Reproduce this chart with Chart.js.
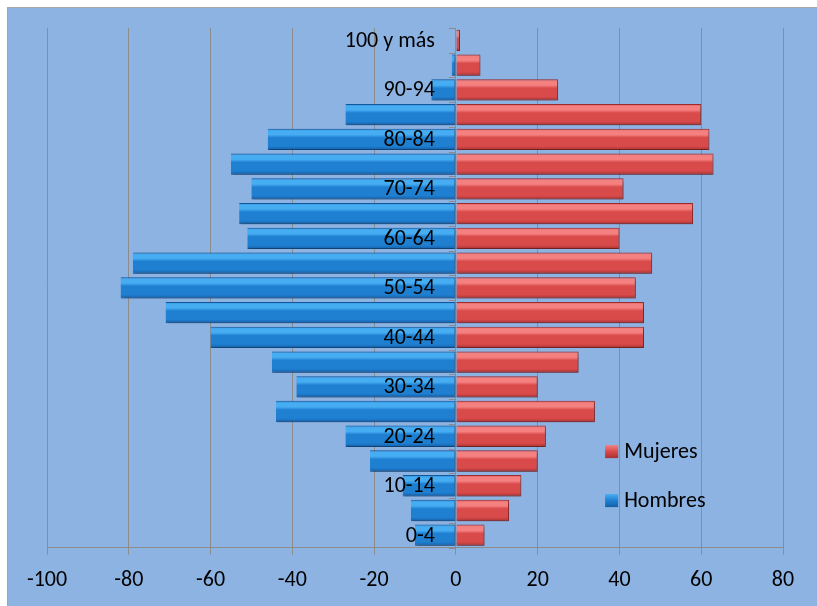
<!DOCTYPE html>
<html>
<head>
<meta charset="utf-8">
<script src="https://cdn.jsdelivr.net/npm/chart.js@4/dist/chart.umd.min.js"></script>
<style>
  html, body { margin: 0; padding: 0; background: #fff; }
  #frame {
    position: absolute; left: 7px; top: 7px;
    width: 810px; height: 599px;
    border-left: 1px solid #a6a6a6; border-top: 1px solid #a6a6a6;
    background: #8db3e2;
  }
  #wrap { position: absolute; left: 0; top: 0; width: 810px; height: 599px; }
</style>
</head>
<body>
<div id="frame"><div id="wrap"><canvas id="pyramid"></canvas></div></div>
<script>
// Age groups, bottom to top
var categories = ['0-4', '5-9', '10-14', '15-19', '20-24', '25-29', '30-34', '35-39', '40-44', '45-49',
    '50-54', '55-59', '60-64', '65-69', '70-74', '75-79', '80-84', '85-89', '90-94', '95-99', '100 y más'];
var mujeres = [7, 13, 16, 20, 22, 34, 20, 30, 46, 46, 44, 48, 40, 58, 41, 63, 62, 60, 25, 6, 1];
var hombres = [-10, -11, -13, -21, -27, -44, -39, -45, -60, -71, -82, -79, -51, -53, -50, -55, -46, -27, -6, -1, 0];
var xTicks = [-100, -80, -60, -40, -20, 0, 20, 40, 60, 80];

var FONT = 'Carlito, Calibri, Lato, sans-serif';
var GRID = '#8c8c8c';
var CAT_PCT = 0.86;

function bevel(light, mid, dark) {
    return function(c) {
        var chart = c.chart;
        if (!chart.chartArea || !chart.scales.y) return mid;
        var y = chart.scales.y;
        var h = (y.height / categories.length) * CAT_PCT;
        var py = y.getPixelForValue(c.dataIndex);
        var g = chart.ctx.createLinearGradient(0, py - h / 2, 0, py + h / 2);
        g.addColorStop(0, mid);
        g.addColorStop(0.1, light);
        g.addColorStop(0.28, light);
        g.addColorStop(0.42, mid);
        g.addColorStop(0.82, mid);
        g.addColorStop(1, dark);
        return g;
    };
}

// drop shadow under the bars
var shadowPlugin = {
    id: 'shadow',
    beforeDatasetsDraw: function(chart) {
        var ctx = chart.ctx;
        ctx.save();
        ctx.shadowColor = 'rgba(0,0,0,0.35)';
        ctx.shadowBlur = 3;
        ctx.shadowOffsetX = 1;
        ctx.shadowOffsetY = 2;
    },
    afterDatasetsDraw: function(chart) {
        chart.ctx.restore();
    }
};

// category labels and small ticks sitting on the zero line, plus the legend
var pyramidPlugin = {
    id: 'pyramidLabels',
    afterDraw: function(chart) {
        var ctx = chart.ctx;
        var x = chart.scales.x, y = chart.scales.y;
        var x0 = x.getPixelForValue(0);
        var step = y.height / categories.length;
        ctx.save();
        ctx.strokeStyle = GRID;
        ctx.lineWidth = 1;
        ctx.beginPath();
        for (var k = 0; k <= categories.length; k++) {
            var by = Math.round(y.top + k * step) + 0.5;
            ctx.moveTo(x0 - 7, by);
            ctx.lineTo(x0, by);
        }
        ctx.stroke();

        ctx.fillStyle = '#000';
        ctx.font = '22px ' + FONT;
        ctx.textAlign = 'right';
        ctx.textBaseline = 'middle';
        for (var i = 0; i < categories.length; i += 2) {
            ctx.fillText(categories[i], x0 - 21, y.getPixelForValue(i) + 1);
        }

        // legend
        var items = [
            { text: 'Mujeres', light: '#f58080', mid: '#d94a4a', dark: '#a83232' },
            { text: 'Hombres', light: '#46adf2', mid: '#1f80d2', dark: '#145ea6' }
        ];
        var lx = x.getPixelForValue(36.5), ly = y.getPixelForValue(3.4);
        items.forEach(function(it, j) {
            var cy = ly + j * 49;
            var g = ctx.createLinearGradient(lx, cy - 6, lx, cy + 7);
            g.addColorStop(0, it.light);
            g.addColorStop(0.5, it.mid);
            g.addColorStop(1, it.dark);
            ctx.fillStyle = g;
            ctx.fillRect(lx, cy - 6, 13, 13);
            ctx.fillStyle = '#000';
            ctx.textAlign = 'left';
            ctx.fillText(it.text, lx + 19, cy + 1);
        });
        ctx.restore();
    }
};

var ctx = document.getElementById('pyramid').getContext('2d');
var pyramid = new Chart(ctx, {
    type: 'bar',
    data: {
        labels: categories,
        datasets: [{
            label: 'Mujeres',
            data: mujeres,
            backgroundColor: bevel('#f58080', '#d94a4a', '#a83232'),
            borderColor: '#9c2c2c',
            borderWidth: 1,
            borderSkipped: 'left',
            categoryPercentage: CAT_PCT,
            barPercentage: 1
        }, {
            label: 'Hombres',
            data: hombres,
            backgroundColor: bevel('#46adf2', '#1f80d2', '#145ea6'),
            borderColor: '#14589c',
            borderWidth: 1,
            borderSkipped: 'right',
            categoryPercentage: CAT_PCT,
            barPercentage: 1
        }]
    },
    options: {
        indexAxis: 'y',
        responsive: true,
        maintainAspectRatio: false,
        animation: false,
        layout: { padding: { left: 39, right: 35, top: 20, bottom: 0 } },
        scales: {
            x: {
                stacked: true,
                min: -100,
                max: 80,
                afterBuildTicks: function(scale) {
                    scale.ticks = xTicks.map(function(v) { return { value: v }; });
                },
                grid: { color: GRID, tickLength: 7, tickColor: GRID },
                border: { color: GRID },
                ticks: {
                    color: '#000',
                    padding: 13,
                    maxRotation: 0,
                    font: { family: FONT, size: 22 }
                }
            },
            y: {
                stacked: true,
                reverse: true,
                display: false
            }
        },
        plugins: {
            legend: { display: false },
            tooltip: { enabled: false }
        }
    },
    plugins: [shadowPlugin, pyramidPlugin]
});
</script>
</body>
</html>
